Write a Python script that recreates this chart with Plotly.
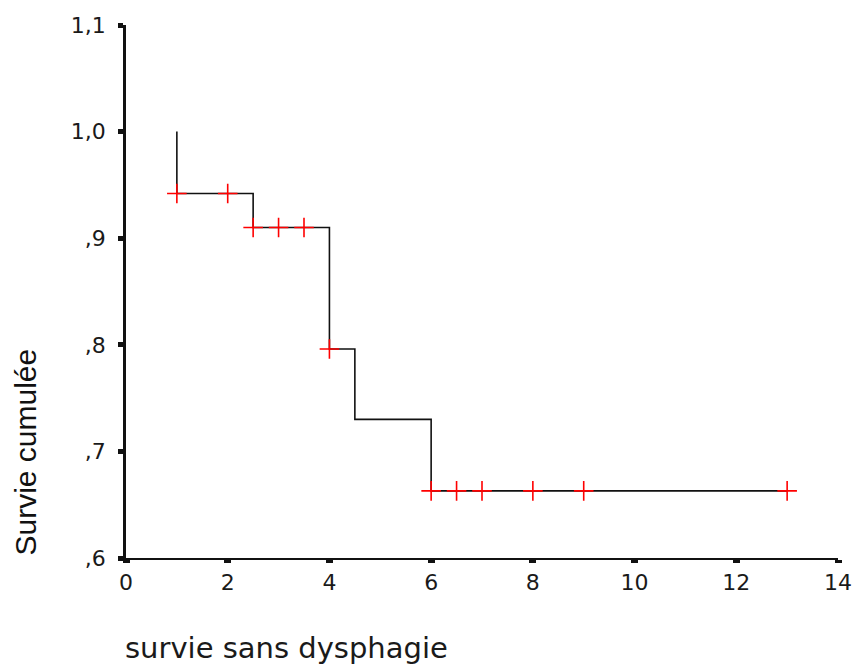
import plotly.graph_objects as go

# Kaplan-Meier step curve
step_times = [1, 1, 2.5, 4, 4.5, 6, 13]
step_surv = [1.0, 0.942, 0.910, 0.796, 0.730, 0.663, 0.663]

# Censored observations
censor_times = [1, 2, 2.5, 3, 3.5, 4, 6, 6.5, 7, 8, 9, 13]
censor_surv = [0.942, 0.942, 0.910, 0.910, 0.910, 0.796,
               0.663, 0.663, 0.663, 0.663, 0.663, 0.663]

x_ticks = [0, 2, 4, 6, 8, 10, 12, 14]
x_tick_labels = ["0", "2", "4", "6", "8", "10", "12", "14"]
y_ticks = [0.6, 0.7, 0.8, 0.9, 1.0, 1.1]
y_tick_labels = [",6", ",7", ",8", ",9", "1,0", "1,1"]

x_title = "survie sans dysphagie"
y_title = "Survie cumulée"

fig = go.Figure()
fig.add_trace(go.Scatter(
    x=step_times, y=step_surv, mode="lines", line_shape="hv",
    line=dict(color="#111111", width=1.6), hoverinfo="skip", showlegend=False,
    cliponaxis=False,
))
fig.add_trace(go.Scatter(
    x=censor_times, y=censor_surv, mode="markers",
    marker=dict(symbol="cross-thin", size=14, line=dict(color="#ff0000", width=1.6)),
    showlegend=False, cliponaxis=False,
))

tick_font = dict(family="DejaVu Sans", size=22, color="#1a1a1a")

fig.update_xaxes(
    range=[0, 14], tickvals=x_ticks, ticktext=x_tick_labels,
    showgrid=False, zeroline=False, showline=True, linecolor="#111111", linewidth=2,
    ticks="outside", ticklen=3, tickwidth=7, tickcolor="#111111",
    tickfont=tick_font, ticklabelstandoff=1,
)
fig.update_yaxes(
    range=[0.6, 1.1], tickvals=y_ticks, ticktext=y_tick_labels,
    showgrid=False, zeroline=False, showline=True, linecolor="#111111", linewidth=2.5,
    ticks="outside", ticklen=5, tickwidth=5, tickcolor="#111111",
    tickfont=tick_font, ticklabelstandoff=8,
)

fig.add_annotation(
    text=x_title, xref="paper", yref="paper", x=-0.004, y=-0.169,
    xanchor="left", yanchor="middle", showarrow=False,
    font=dict(family="DejaVu Sans", size=29, color="#1a1a1a"),
)
fig.add_annotation(
    text=y_title, xref="paper", yref="paper", x=-0.141, y=0.199,
    xanchor="center", yanchor="middle", showarrow=False, textangle=-90,
    font=dict(family="Liberation Sans", size=30, color="#111111"),
)

fig.update_layout(
    width=864, height=667,
    margin=dict(l=126, r=21, t=25, b=109),
    plot_bgcolor="white", paper_bgcolor="white",
)

# Remove the browser's default 8px body margin so the figure fills the window.
fig.write_html(
    "out.html",
    config={"displayModeBar": False},
    post_script="document.body.style.margin='0';document.body.style.overflow='hidden';",
)
